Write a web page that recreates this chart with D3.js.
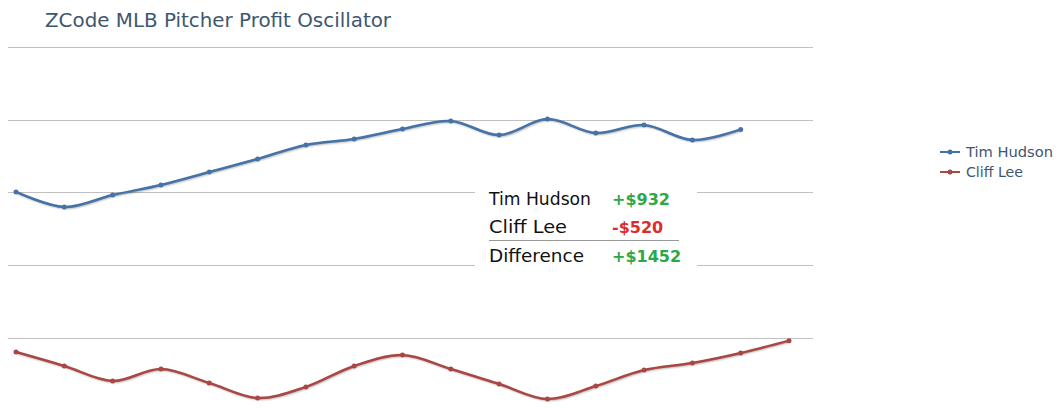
<!DOCTYPE html>
<html>
<head>
<meta charset="utf-8">
<script src="https://cdn.jsdelivr.net/npm/d3@7"></script>
<style>
  html, body { margin: 0; padding: 0; background: #fff; }
  svg { display: block; }
</style>
</head>
<body>
<svg id="chart" width="1059" height="408"></svg>
<script>
// ---- data ----
const title = "ZCode MLB Pitcher Profit Oscillator";
const categories = d3.range(1, 18); // 17 games
const seriesNames = ["Tim Hudson", "Cliff Lee"];
const seriesColors = ["#4572A7", "#AA4643"];
const hudson = [502, 399, 481, 550, 639, 729, 825, 866, 935, 990, 893, 1003, 907, 962, 859, 932, null];
const lee = [-598, -694, -797, -715, -811, -914, -838, -694, -619, -715, -818, -921, -832, -722, -674, -605, -520];
const gridValues = [1500, 1000, 500, 0, -500];
const summaryRows = [
  { label: "Tim Hudson", value: "+$932", color: "#2BA84A" },
  { label: "Cliff Lee", value: "-$520", color: "#DD2C2C" },
  { label: "Difference", value: "+$1452", color: "#2BA84A" }
];

// ---- layout ----
const svg = d3.select("#chart");
const plotLeft = 8, plotRight = 813;
const x = d3.scalePoint().domain(categories).range([16, 789]);
const y = d3.scaleLinear().domain([-500, 1500]).range([337.75, 46.75]);

// title
svg.append("text")
  .attr("x", 45).attr("y", 27)
  .attr("font-family", "DejaVu Sans, Verdana, sans-serif")
  .attr("font-size", 19)
  .attr("textLength", 346).attr("lengthAdjust", "spacingAndGlyphs")
  .attr("fill", "#3E576F")
  .text(title);

// grid
svg.append("g").selectAll("line").data(gridValues).join("line")
  .attr("x1", plotLeft).attr("x2", plotRight)
  .attr("y1", d => Math.round(y(d)) + 0.5).attr("y2", d => Math.round(y(d)) + 0.5)
  .attr("stroke", "#C0C0C0").attr("stroke-width", 1);

// series
const seriesData = [hudson, lee];
const line = d3.line()
  .defined(d => d.v !== null)
  .x(d => x(d.c)).y(d => y(d.v))
  .curve(d3.curveCatmullRom.alpha(0.5));

seriesData.forEach((vals, i) => {
  const pts = vals.map((v, j) => ({ c: categories[j], v }));
  const g = svg.append("g");
  [[5, 0.05], [3, 0.1], [1, 0.15]].forEach(([w, o]) => {
    g.append("path").attr("d", line(pts))
      .attr("fill", "none").attr("stroke", "#000")
      .attr("stroke-opacity", o).attr("stroke-width", w)
      .attr("transform", "translate(1,1)");
  });
  g.append("path").attr("d", line(pts))
    .attr("fill", "none").attr("stroke", seriesColors[i])
    .attr("stroke-width", 2.5).attr("stroke-linejoin", "round");
  g.selectAll("circle").data(pts.filter(d => d.v !== null)).join("circle")
    .attr("cx", d => x(d.c)).attr("cy", d => y(d.v)).attr("r", 2.5)
    .attr("fill", seriesColors[i]);
});

// legend
const legend = svg.append("g");
const legendWidths = [87, 57];
seriesNames.forEach((name, i) => {
  const ly = 152 + i * 20;
  legend.append("line").attr("x1", 940).attr("x2", 960).attr("y1", ly).attr("y2", ly)
    .attr("stroke", seriesColors[i]).attr("stroke-width", 2);
  legend.append("circle").attr("cx", 950).attr("cy", ly).attr("r", 2.5).attr("fill", seriesColors[i]);
  legend.append("text").attr("x", 966).attr("y", ly + 5)
    .attr("font-family", "DejaVu Sans, Verdana, sans-serif")
    .attr("font-size", 14).attr("fill", "#3E576F")
    .attr("textLength", legendWidths[i]).attr("lengthAdjust", "spacingAndGlyphs")
    .text(name);
});

// summary box
const box = svg.append("g");
const labelWidths = [102, 78, 95];
box.append("rect").attr("x", 475).attr("y", 183).attr("width", 222).attr("height", 88).attr("fill", "#fff");
summaryRows.forEach((r, i) => {
  const by = [205, 233, 262][i];
  box.append("text").attr("x", 489).attr("y", by)
    .attr("font-family", "DejaVu Sans, Tahoma, sans-serif").attr("font-size", 17)
    .attr("textLength", labelWidths[i]).attr("lengthAdjust", "spacingAndGlyphs")
    .attr("fill", "#111").text(r.label);
  box.append("text").attr("x", 612).attr("y", by)
    .attr("font-family", "DejaVu Sans, Tahoma, sans-serif").attr("font-size", 16)
    .attr("font-weight", "bold").attr("fill", r.color).text(r.value);
});
box.append("line").attr("x1", 489).attr("x2", 679).attr("y1", 240.5).attr("y2", 240.5)
  .attr("stroke", "#999").attr("stroke-width", 1);
</script>
</body>
</html>
